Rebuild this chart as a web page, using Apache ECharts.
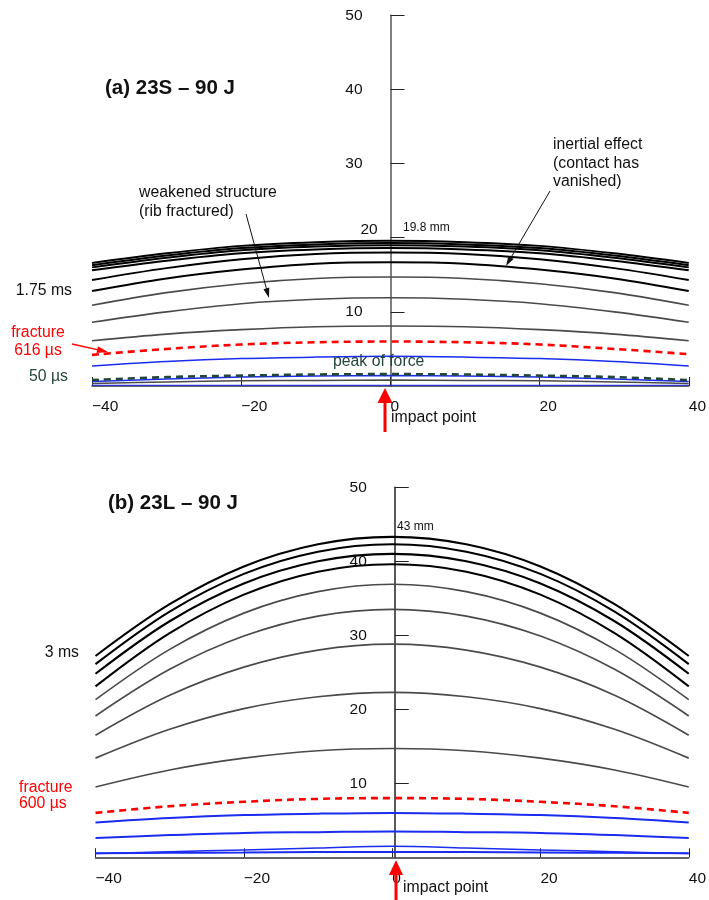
<!DOCTYPE html>
<html><head><meta charset="utf-8">
<script src="https://cdn.jsdelivr.net/npm/echarts@6/dist/echarts.min.js"></script>
<style>html,body{margin:0;padding:0;background:#fff}#c{width:709px;height:900px}</style>
</head><body><div id="c"></div>
<script>
// ---------- data ----------
const xPos = [-40, -30, -20, -10, 0, 10, 20, 30, 40];
const xTickValues = [-40, -20, 0, 20, 40];
const yTickValues = [10, 20, 30, 40, 50];

// (a) 23S - 90 J  (deflection in mm)
const aBlack1 = [16.6, 17.9, 18.9, 19.4, 19.6, 19.4, 18.9, 17.9, 16.6];
const aBlack2 = [16.3, 17.6, 18.6, 19.1, 19.3, 19.1, 18.6, 17.6, 16.3];
const aBlack3 = [16.0, 17.3, 18.3, 18.8, 19.0, 18.8, 18.3, 17.3, 16.0];
const aBlack4 = [15.6, 16.9, 17.9, 18.4, 18.6, 18.4, 17.9, 16.9, 15.6];
const aBlack5 = [14.3, 15.9, 17.1, 17.8, 18.0, 17.8, 17.1, 15.9, 14.3];
const aBlack6 = [12.8, 14.5, 15.7, 16.5, 16.7, 16.5, 15.7, 14.5, 12.8]; // 1.75 ms
const aGray1 = [10.9, 12.6, 13.8, 14.5, 14.7, 14.5, 13.8, 12.6, 10.9];
const aGray2 = [8.6, 10.0, 11.1, 11.7, 11.9, 11.7, 11.1, 10.0, 8.6];
const aGray3 = [6.1, 7.0, 7.6, 8.0, 8.1, 8.0, 7.6, 7.0, 6.1];
const aFracture = [4.2, 5.0, 5.6, 5.9, 6.0, 5.9, 5.6, 5.0, 4.3]; // 616 µs
const aBlue1 = [2.7, 3.3, 3.7, 3.9, 4.0, 3.9, 3.7, 3.3, 2.7];
const aPeakForce = [0.8, 1.2, 1.4, 1.55, 1.6, 1.55, 1.4, 1.2, 0.8];
const aBlue2 = [0.6, 0.95, 1.2, 1.35, 1.4, 1.35, 1.2, 0.95, 0.6];
const aGray4 = [0.35, 0.55, 0.7, 0.75, 0.8, 0.75, 0.7, 0.55, 0.35]; // 50 µs region
const aBlue3 = [0.1, 0.1, 0.1, 0.1, 0.1, 0.1, 0.1, 0.1, 0.1];

// (b) 23L - 90 J
const bBlack1 = [27.2, 34.2, 39.3, 42.3, 43.3, 42.3, 39.3, 34.2, 27.2]; // 43 mm
const bBlack2 = [26.1, 33.2, 38.3, 41.3, 42.3, 41.3, 38.3, 33.2, 26.1];
const bBlack3 = [24.8, 31.9, 37.0, 40.0, 41.0, 40.0, 37.0, 31.9, 24.8];
const bBlack4 = [23.1, 30.3, 35.5, 38.6, 39.6, 38.6, 35.5, 30.3, 23.1]; // 3 ms
const bGray1 = [21.3, 28.1, 33.0, 35.9, 36.9, 35.9, 33.0, 28.1, 21.3];
const bGray2 = [19.1, 25.4, 29.9, 32.6, 33.5, 32.6, 29.9, 25.4, 19.1];
const bGray3 = [16.5, 21.9, 25.7, 28.0, 28.8, 28.0, 25.7, 21.9, 16.5];
const bGray4 = [13.4, 17.3, 20.1, 21.7, 22.3, 21.7, 20.1, 17.3, 13.4];
const bGray5 = [9.5, 11.8, 13.4, 14.4, 14.7, 14.4, 13.4, 11.8, 9.5];
const bFracture = [6.0, 6.9, 7.5, 7.9, 8.0, 7.9, 7.5, 6.9, 6.0]; // 600 µs
const bBlue1 = [4.7, 5.3, 5.7, 5.9, 6.0, 5.9, 5.7, 5.3, 4.7];
const bBlue2 = [2.6, 3.0, 3.3, 3.4, 3.5, 3.4, 3.3, 3.0, 2.6];
const bBlue3 = [0.5, 0.75, 1.0, 1.25, 1.5, 1.25, 1.0, 0.75, 0.5];
const bBlue4 = [0.55, 0.6, 0.65, 0.7, 0.7, 0.7, 0.65, 0.6, 0.55];

// ---------- styling ----------
const FONT = "'Liberation Sans', Arial, sans-serif";
const BLACK = '#000000', GRAY = '#4a4a4a', BLUE = '#1a2cf0', RED = '#ff0000', GREEN = '#23463a';
const ANN = 15.8;
const GRIDS = [
  { left: 92, top: 15.3, width: 597, height: 370.7 },
  { left: 95.5, top: 487.3, width: 598.5, height: 370 }
];

function pts(vals) { return xPos.map((x, i) => [x, vals[i]]); }
function ser(g, vals, color, width, dashed, z) {
  return {
    type: 'line', xAxisIndex: g, yAxisIndex: g, data: pts(vals), smooth: 0.35,
    showSymbol: false, silent: true, z: z || 2,
    lineStyle: { color: color, width: width, type: dashed ? [7, 5] : 'solid' }
  };
}
function xAx(g) {
  return {
    type: 'value', gridIndex: g, min: -40, max: 40, interval: 20,
    axisLine: { onZero: false, lineStyle: { color: '#333', width: 1.5 } },
    axisTick: { show: true, inside: true, length: 9, lineStyle: { color: '#222', width: 1 },
      customValues: xTickValues },
    axisLabel: { align: 'left', margin: 13, fontSize: 15.5, fontFamily: FONT, color: '#111',
      customValues: xTickValues,
      formatter: v => (v < 0 ? '\u2212' + Math.abs(v) : String(v)) },
    splitLine: { show: false }
  };
}
function yAx(g, shift20) {
  return {
    type: 'value', gridIndex: g, min: 0, max: 50, interval: 10, position: 'left',
    offset: -GRIDS[g].width / 2,
    axisLine: { show: true, onZero: false, lineStyle: { color: g === 0 ? '#555' : '#222', width: 1.5 } },
    axisTick: { show: true, inside: true, length: 14, lineStyle: { color: '#222', width: 1 },
      customValues: yTickValues },
    axisLabel: { margin: 28, fontSize: 15.5, fontFamily: FONT, color: '#111',
      customValues: yTickValues,
      formatter: v => (shift20 && v === 20 ? '{m|20}' : String(v)),
      rich: { m: { fontSize: 15.5, fontFamily: FONT, color: '#111', width: 2, align: 'left', padding: [0, 0, 16, 0] } } },
    splitLine: { show: false }
  };
}
function txt(t, x, y, opt) {
  opt = opt || {};
  return { type: 'text', x: x, y: y, silent: true, z: 50,
    style: { text: t, fill: opt.color || '#111', font: (opt.bold ? 'bold ' : '') + (opt.size || ANN) + 'px ' + FONT,
      align: opt.align || 'left', verticalAlign: 'middle', textAlign: opt.align || 'left', textVerticalAlign: 'middle' } };
}
function arrow(x1, y1, x2, y2, color, w, hl, hw) {
  const dx = x2 - x1, dy = y2 - y1, L = Math.hypot(dx, dy), ux = dx / L, uy = dy / L;
  const bx = x2 - ux * hl, by = y2 - uy * hl;
  return [
    { type: 'line', silent: true, z: 50, shape: { x1: x1, y1: y1, x2: bx + ux * 1, y2: by + uy * 1 },
      style: { stroke: color, lineWidth: w } },
    { type: 'polygon', silent: true, z: 50,
      shape: { points: [[x2, y2], [bx - uy * hw / 2, by + ux * hw / 2], [bx + uy * hw / 2, by - ux * hw / 2]] },
      style: { fill: color } }
  ];
}

const series = [
  ser(0, aBlue3, BLUE, 1.2), ser(0, aGray4, GRAY, 1.5), ser(0, aBlue2, BLUE, 1.5),
  ser(0, aPeakForce, GREEN, 2.6, true, 3),
  ser(0, aBlue1, BLUE, 1.5), ser(0, aFracture, RED, 2.6, true, 3),
  ser(0, aGray3, GRAY, 1.6), ser(0, aGray2, GRAY, 1.6), ser(0, aGray1, GRAY, 1.6),
  ser(0, aBlack6, BLACK, 2), ser(0, aBlack5, BLACK, 2), ser(0, aBlack4, BLACK, 2),
  ser(0, aBlack3, BLACK, 2), ser(0, aBlack2, BLACK, 2), ser(0, aBlack1, BLACK, 2),

  ser(1, bBlue4, BLUE, 2), ser(1, bBlue3, BLUE, 1.5), ser(1, bBlue2, BLUE, 2), ser(1, bBlue1, BLUE, 2),
  ser(1, bFracture, RED, 2.6, true, 3),
  ser(1, bGray5, GRAY, 1.7), ser(1, bGray4, GRAY, 1.7), ser(1, bGray3, GRAY, 1.7),
  ser(1, bGray2, GRAY, 1.7), ser(1, bGray1, GRAY, 1.7),
  ser(1, bBlack4, BLACK, 2.1), ser(1, bBlack3, BLACK, 2.1), ser(1, bBlack2, BLACK, 2.1), ser(1, bBlack1, BLACK, 2.1)
];

const graphic = [].concat(
  [
    txt('(a) 23S \u2013 90 J', 105, 88, { bold: true, size: 20.5 }),
    txt('weakened structure', 139, 193),
    txt('(rib fractured)', 139, 212),
    txt('inertial effect', 553, 145),
    txt('(contact has', 553, 164),
    txt('vanished)', 553, 182),
    txt('19.8 mm', 403, 228, { size: 12 }),
    txt('1.75 ms', 72, 291, { align: 'right' }),
    txt('fracture', 38, 333, { color: RED, align: 'center' }),
    txt('616 \u00b5s', 38, 351, { color: RED, align: 'center' }),
    txt('50 \u00b5s', 68, 377, { color: GREEN, align: 'right' }),
    txt('peak of force', 333, 362, { color: GREEN }),
    txt('impact point', 391, 418),

    txt('(b) 23L \u2013 90 J', 108, 503, { bold: true, size: 20.5 }),
    txt('43 mm', 397, 527, { size: 12 }),
    txt('3 ms', 79, 653, { align: 'right' }),
    txt('fracture', 19, 788, { color: RED }),
    txt('600 \u00b5s', 19, 804, { color: RED }),
    txt('impact point', 403, 888)
  ],
  arrow(246, 214, 269, 298, '#111', 1, 10, 6),
  arrow(550, 191, 506, 266, '#111', 1, 10, 6),
  arrow(72, 344, 108, 352, RED, 1.3, 11, 7),
  arrow(385, 432, 385, 388, RED, 3, 15, 15),
  arrow(396, 902, 396, 860, RED, 3, 15, 14)
);

const option = {
  animation: false,
  backgroundColor: '#fff',
  textStyle: { fontFamily: FONT },
  grid: GRIDS.map(g => Object.assign({ containLabel: false }, g)),
  xAxis: [xAx(0), xAx(1)],
  yAxis: [yAx(0, true), yAx(1, false)],
  series: series,
  graphic: graphic
};
const chart = echarts.init(document.getElementById('c'), null, { renderer: 'canvas' });
chart.setOption(option);
</script></body></html>
